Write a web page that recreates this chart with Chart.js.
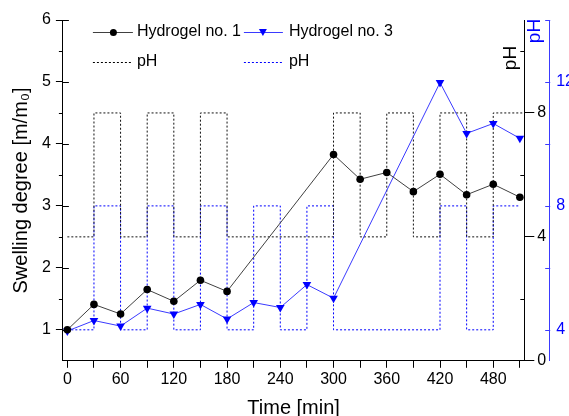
<!DOCTYPE html>
<html>
<head>
<meta charset="utf-8">
<script src="https://cdn.jsdelivr.net/npm/chart.js@4.4.1/dist/chart.umd.min.js"></script>
<style>
  body { margin: 0; background: #fff; }
</style>
</head>
<body>
<canvas id="myChart" width="569" height="416"></canvas>
<script>
// swelling data (time in min)
var timesH1 = [0, 30, 60, 90, 120, 150, 180, 300, 330, 360, 390, 420, 450, 480, 510];
var swellH1 = [1.0, 1.41, 1.255, 1.65, 1.46, 1.80, 1.62, 3.83, 3.43, 3.54, 3.23, 3.51, 3.18, 3.35, 3.14];
var timesH3 = [0, 30, 60, 90, 120, 150, 180, 210, 240, 270, 300, 420, 450, 480, 510];
var swellH3 = [0.98, 1.15, 1.06, 1.35, 1.255, 1.41, 1.175, 1.44, 1.36, 1.73, 1.51, 4.99, 4.17, 4.33, 4.09];

// pH steps: value holds until the next time
var phTimes1 = [0, 30, 60, 90, 120, 150, 180, 300, 330, 360, 390, 420, 450, 480, 515];
var phVals1 = [4, 8, 4, 8, 4, 8, 4, 8, 4, 8, 4, 8, 4, 8, 8];
var phTimes3 = [0, 30, 60, 90, 120, 150, 180, 210, 240, 270, 300, 420, 450, 480, 510];
var phVals3 = [4, 8, 4, 8, 4, 8, 4, 8, 4, 8, 4, 8, 4, 8, 8];

// ticks
var xTicks = [0, 30, 60, 90, 120, 150, 180, 210, 240, 270, 300, 330, 360, 390, 420, 450, 480, 510];
var xLabels = [0, 60, 120, 180, 240, 300, 360, 420, 480];
var yTicks = [1, 1.5, 2, 2.5, 3, 3.5, 4, 4.5, 5, 5.5, 6];
var yLabels = [1, 2, 3, 4, 5, 6];
var ph1Ticks = [0, 2, 4, 6, 8, 10];
var ph1Labels = [0, 4, 8];
var ph3Ticks = [4, 6, 8, 10, 12, 14];
var ph3Labels = [4, 8, 12];

var legendLabels = ['Hydrogel no. 1', 'Hydrogel no. 3', 'pH', 'pH'];

var FONT = 'Arial, "Liberation Sans", sans-serif';
var BLUE = '#0000ff';
var BLUE_LINE = '#3a3aff';

function pts(xs, ys) {
  return xs.map(function (x, i) { return { x: x, y: ys[i] }; });
}

function setTicks(list) {
  return function (scale) {
    scale.ticks = list.map(function (v) { return { value: v }; });
  };
}

function labelIf(list) {
  return function (v) { return list.indexOf(v) >= 0 ? String(v) : ''; };
}

function seg(ctx, x1, y1, x2, y2) {
  ctx.beginPath();
  ctx.moveTo(x1, y1);
  ctx.lineTo(x2, y2);
  ctx.stroke();
}

var overlay = {
  id: 'overlay',
  afterDraw: function (chart) {
    var ctx = chart.ctx, a = chart.chartArea, s = chart.scales;
    ctx.save();
    ctx.lineWidth = 1;

    // left axis: majors cross inward, minors short outward
    ctx.strokeStyle = '#000';
    yTicks.forEach(function (v) {
      var y = Math.round(s.y.getPixelForValue(v)) + 0.5;
      if (yLabels.indexOf(v) >= 0) seg(ctx, a.left, y, a.left + 6, y);
      else seg(ctx, a.left - 4, y, a.left, y);
    });
    // black pH axis minors inward
    var bx = s.y2.left;
    ph1Ticks.forEach(function (v) {
      if (ph1Labels.indexOf(v) >= 0) return;
      var y = Math.round(s.y2.getPixelForValue(v)) + 0.5;
      seg(ctx, bx - 4, y, bx, y);
    });
    // blue pH axis ticks inward
    ctx.strokeStyle = BLUE_LINE;
    var cx = s.y3.left;
    ph3Ticks.forEach(function (v) {
      var y = Math.round(s.y3.getPixelForValue(v)) + 0.5;
      seg(ctx, cx - 4, y, cx + 1, y);
    });

    // right axis titles
    ctx.textAlign = 'center';
    ctx.textBaseline = 'middle';
    ctx.font = '19px ' + FONT;
    ctx.fillStyle = '#000';
    ctx.save();
    ctx.translate(bx - 14, a.top + 38);
    ctx.rotate(-Math.PI / 2);
    ctx.fillText('pH', 0, 0);
    ctx.restore();
    ctx.fillStyle = BLUE;
    ctx.save();
    ctx.translate(cx - 14, a.top + 11);
    ctx.rotate(-Math.PI / 2);
    ctx.fillText('pH', 0, 0);
    ctx.restore();

    // legend
    ctx.font = '16px ' + FONT;
    ctx.textAlign = 'left';
    var r1 = a.top + 12, r2 = a.top + 42;
    var c1 = a.left + 30, c2 = a.left + 181;
    // Hydrogel no. 1
    ctx.strokeStyle = '#404040';
    seg(ctx, c1, r1 + 0.5, c1 + 40, r1 + 0.5);
    ctx.fillStyle = '#000';
    ctx.beginPath();
    ctx.arc(c1 + 20.5, r1 + 0.5, 3.5, 0, Math.PI * 2);
    ctx.fill();
    ctx.fillText(legendLabels[0], c1 + 44, r1);
    // Hydrogel no. 3
    ctx.strokeStyle = BLUE_LINE;
    seg(ctx, c2, r1 + 0.5, c2 + 39, r1 + 0.5);
    ctx.fillStyle = BLUE;
    ctx.beginPath();
    ctx.moveTo(c2 + 15, r1 - 3);
    ctx.lineTo(c2 + 23, r1 - 3);
    ctx.lineTo(c2 + 19, r1 + 4);
    ctx.closePath();
    ctx.fill();
    ctx.fillStyle = '#000';
    ctx.fillText(legendLabels[1], c2 + 45, r1);
    // pH dotted samples
    ctx.setLineDash([2, 2]);
    ctx.strokeStyle = '#000';
    seg(ctx, c1, r2 + 0.5, c1 + 38, r2 + 0.5);
    ctx.strokeStyle = BLUE;
    seg(ctx, c2, r2 + 0.5, c2 + 39, r2 + 0.5);
    ctx.setLineDash([]);
    ctx.fillStyle = '#000';
    ctx.fillText(legendLabels[2], c1 + 44, r2);
    ctx.fillText(legendLabels[3], c2 + 45, r2);

    ctx.restore();
  }
};

var ctx = document.getElementById('myChart').getContext('2d');
var myChart = new Chart(ctx, {
  type: 'line',
  data: {
    datasets: [{
      label: 'Hydrogel no. 1',
      data: pts(timesH1, swellH1),
      yAxisID: 'y',
      borderColor: '#404040',
      borderWidth: 1,
      pointStyle: 'circle',
      pointRadius: 3.8,
      pointBackgroundColor: '#000',
      pointBorderColor: '#000',
      pointBorderWidth: 0
    }, {
      label: 'Hydrogel no. 3',
      data: pts(timesH3, swellH3),
      yAxisID: 'y',
      borderColor: BLUE_LINE,
      borderWidth: 1,
      pointStyle: 'triangle',
      pointRotation: 180,
      pointRadius: 5,
      pointBackgroundColor: BLUE,
      pointBorderColor: BLUE,
      pointBorderWidth: 0
    }, {
      label: 'pH',
      data: pts(phTimes1, phVals1),
      yAxisID: 'y2',
      stepped: true,
      borderColor: '#111',
      borderWidth: 1,
      borderDash: [2, 2],
      pointRadius: 0
    }, {
      label: 'pH',
      data: pts(phTimes3, phVals3),
      yAxisID: 'y3',
      stepped: true,
      borderColor: BLUE,
      borderWidth: 1,
      borderDash: [2, 2],
      pointRadius: 0
    }]
  },
  options: {
    responsive: false,
    animation: false,
    devicePixelRatio: 1,
    layout: { padding: { left: 0, right: -8, top: 20, bottom: -4 } },
    plugins: {
      legend: { display: false },
      tooltip: { enabled: false }
    },
    scales: {
      x: {
        type: 'linear',
        min: -5,
        max: 515,
        afterBuildTicks: setTicks(xTicks),
        ticks: { callback: labelIf(xLabels), autoSkip: false, maxRotation: 0, padding: 2, color: '#000', font: { family: FONT, size: 16 } },
        grid: { drawOnChartArea: false, tickLength: 7, tickColor: '#000' },
        border: { color: '#000', width: 1 },
        title: { display: true, text: 'Time [min]', color: '#000', font: { family: FONT, size: 20 }, padding: { top: 5, bottom: 0 } }
      },
      y: {
        position: 'left',
        min: 0.5,
        max: 6,
        afterBuildTicks: setTicks(yTicks),
        ticks: { callback: labelIf(yLabels), autoSkip: false, padding: 5, color: '#000', font: { family: FONT, size: 16 } },
        grid: {
          drawOnChartArea: false,
          tickLength: 7,
          tickColor: function (c) { return yLabels.indexOf(c.tick.value) >= 0 ? '#000' : 'rgba(0,0,0,0)'; }
        },
        border: { color: '#000', width: 1 },
        title: { display: true, text: 'Swelling degree [m/m\u2080]', color: '#000', font: { family: FONT, size: 20 }, padding: { top: 9, bottom: 4 } }
      },
      y2: {
        position: 'right',
        weight: 0,
        min: 0,
        max: 11,
        afterBuildTicks: setTicks(ph1Ticks),
        ticks: { callback: labelIf(ph1Labels), autoSkip: false, padding: 3, color: '#000', font: { family: FONT, size: 16 } },
        grid: {
          drawOnChartArea: false,
          tickLength: 10,
          tickColor: function (c) { return ph1Labels.indexOf(c.tick.value) >= 0 ? '#000' : 'rgba(0,0,0,0)'; }
        },
        border: { color: '#000', width: 1 }
      },
      y3: {
        position: 'right',
        weight: 1,
        min: 3,
        max: 14,
        afterBuildTicks: setTicks(ph3Ticks),
        ticks: { callback: labelIf(ph3Labels), autoSkip: false, padding: 3, color: BLUE, font: { family: FONT, size: 16 } },
        grid: { drawOnChartArea: false, tickLength: 4, tickColor: 'rgba(0,0,0,0)' },
        border: { color: BLUE_LINE, width: 1 }
      }
    }
  },
  plugins: [overlay]
});
</script>
</body>
</html>
